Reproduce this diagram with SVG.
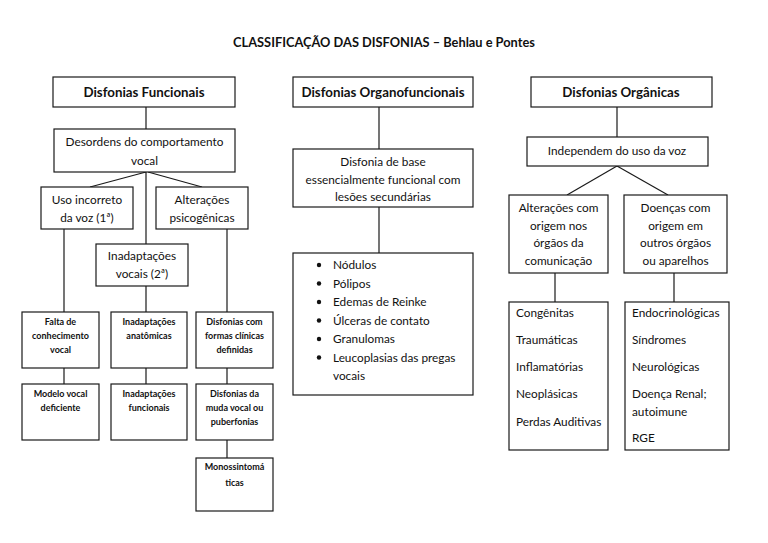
<svg xmlns="http://www.w3.org/2000/svg" width="768" height="543" viewBox="0 0 768 543">
<style>
  .bx { fill: #ffffff; stroke: #1a1a1a; stroke-width: 1.2; }
  .ln { stroke: #1a1a1a; stroke-width: 1.2; fill: none; }
  text { font-family: Lato, "Liberation Sans", sans-serif; fill: #111111; }
  .t { font-size: 12.8px; font-weight: bold; text-anchor: middle; }
  .h { font-size: 13.3px; font-weight: bold; text-anchor: middle; }
  .r { font-size: 11.8px; text-anchor: middle; }
  .l { font-size: 11.8px; }
  .s { font-size: 9px; font-weight: bold; text-anchor: middle; }
</style>
<rect width="768" height="543" fill="#ffffff"/>
<text class="t" x="384" y="47">CLASSIFICAÇÃO DAS DISFONIAS – Behlau e Pontes</text>

<g id="connectors">
  <line class="ln" x1="146" y1="107" x2="146" y2="129"/>
  <line class="ln" x1="146" y1="172" x2="90" y2="187"/>
  <line class="ln" x1="148" y1="172" x2="202" y2="187"/>
  <line class="ln" x1="146" y1="172" x2="146" y2="244"/>
  <line class="ln" x1="64" y1="229" x2="64" y2="312"/>
  <line class="ln" x1="227" y1="229" x2="227" y2="312"/>
  <line class="ln" x1="146" y1="286" x2="146" y2="312"/>
  <line class="ln" x1="64" y1="368" x2="64" y2="384"/>
  <line class="ln" x1="146" y1="368" x2="146" y2="384"/>
  <line class="ln" x1="227" y1="368" x2="227" y2="384"/>
  <line class="ln" x1="227" y1="440" x2="227" y2="458"/>
  <line class="ln" x1="379" y1="107" x2="379" y2="149"/>
  <line class="ln" x1="379" y1="207" x2="379" y2="253"/>
  <line class="ln" x1="617" y1="107" x2="617" y2="137"/>
  <line class="ln" x1="617" y1="166" x2="567" y2="195"/>
  <line class="ln" x1="617" y1="166" x2="668" y2="195"/>
  <line class="ln" x1="555" y1="273" x2="555" y2="302"/>
  <line class="ln" x1="674" y1="273" x2="674" y2="302"/>
</g>

<g id="funcionais">
  <rect class="bx" x="53" y="77" width="182" height="30"/>
  <text class="h" x="144" y="96.5">Disfonias Funcionais</text>
</g>
<g id="organofuncionais">
  <rect class="bx" x="293" y="77" width="180" height="30"/>
  <text class="h" x="383" y="96.5">Disfonias Organofuncionais</text>
</g>
<g id="organicas">
  <rect class="bx" x="531" y="77" width="181" height="30"/>
  <text class="h" x="621" y="96.5">Disfonias Orgânicas</text>
</g>

<g id="desordens">
  <rect class="bx" x="54" y="129" width="181" height="43"/>
  <text class="r" x="144.5" y="146">Desordens do comportamento</text>
  <text class="r" x="144.5" y="165">vocal</text>
</g>
<g id="uso-incorreto">
  <rect class="bx" x="41" y="187" width="92" height="42"/>
  <text class="r" x="87" y="204">Uso incorreto</text>
  <text class="r" x="87" y="222">da voz (1ª)</text>
</g>
<g id="psicogenicas">
  <rect class="bx" x="156" y="187" width="92" height="42"/>
  <text class="r" x="202" y="204">Alterações</text>
  <text class="r" x="202" y="222">psicogênicas</text>
</g>
<g id="inadaptacoes-vocais">
  <rect class="bx" x="96" y="244" width="92" height="42"/>
  <text class="r" x="142" y="260">Inadaptações</text>
  <text class="r" x="142" y="278">vocais (2ª)</text>
</g>

<g id="falta">
  <rect class="bx" x="22" y="312" width="77" height="56"/>
  <text class="s" x="60.5" y="325">Falta de</text>
  <text class="s" x="60.5" y="339">conhecimento</text>
  <text class="s" x="60.5" y="353">vocal</text>
</g>
<g id="anatomicas">
  <rect class="bx" x="111" y="312" width="76" height="56"/>
  <text class="s" x="149" y="325">Inadaptações</text>
  <text class="s" x="149" y="339">anatômicas</text>
</g>
<g id="formas-clinicas">
  <rect class="bx" x="196" y="312" width="77" height="56"/>
  <text class="s" x="234.5" y="325">Disfonias com</text>
  <text class="s" x="234.5" y="339">formas clínicas</text>
  <text class="s" x="234.5" y="353">definidas</text>
</g>
<g id="modelo">
  <rect class="bx" x="22" y="384" width="77" height="56"/>
  <text class="s" x="60.5" y="397">Modelo vocal</text>
  <text class="s" x="60.5" y="411">deficiente</text>
</g>
<g id="funcionais-inad">
  <rect class="bx" x="111" y="384" width="76" height="56"/>
  <text class="s" x="149" y="397">Inadaptações</text>
  <text class="s" x="149" y="411">funcionais</text>
</g>
<g id="muda-vocal">
  <rect class="bx" x="196" y="384" width="77" height="56"/>
  <text class="s" x="234.5" y="397">Disfonias da</text>
  <text class="s" x="234.5" y="411">muda vocal ou</text>
  <text class="s" x="234.5" y="425">puberfonias</text>
</g>
<g id="monossintomaticas">
  <rect class="bx" x="196" y="458" width="77" height="53"/>
  <text class="s" x="234.5" y="470">Monossintomá</text>
  <text class="s" x="234.5" y="486">ticas</text>
</g>

<g id="base-funcional">
  <rect class="bx" x="293" y="149" width="180" height="58"/>
  <text class="r" x="383" y="166">Disfonia de base</text>
  <text class="r" x="383" y="183.5">essencialmente funcional com</text>
  <text class="r" x="383" y="201">lesões secundárias</text>
</g>
<g id="lesoes">
  <rect class="bx" x="293" y="253" width="180" height="142"/>
  <circle cx="319" cy="265" r="2.2" fill="#111"/>
  <circle cx="319" cy="283.5" r="2.2" fill="#111"/>
  <circle cx="319" cy="302" r="2.2" fill="#111"/>
  <circle cx="319" cy="320.5" r="2.2" fill="#111"/>
  <circle cx="319" cy="339" r="2.2" fill="#111"/>
  <circle cx="319" cy="357.5" r="2.2" fill="#111"/>
  <text class="l" x="333" y="269">Nódulos</text>
  <text class="l" x="333" y="287.5">Pólipos</text>
  <text class="l" x="333" y="306">Edemas de Reinke</text>
  <text class="l" x="333" y="324.5">Úlceras de contato</text>
  <text class="l" x="333" y="343">Granulomas</text>
  <text class="l" x="333" y="361.5">Leucoplasias das pregas</text>
  <text class="l" x="333" y="380">vocais</text>
</g>

<g id="independem">
  <rect class="bx" x="527" y="137" width="181" height="29"/>
  <text class="r" x="617" y="155">Independem do uso da voz</text>
</g>
<g id="orgaos-comunicacao">
  <rect class="bx" x="509" y="195" width="99" height="78"/>
  <text class="r" x="558.5" y="212">Alterações com</text>
  <text class="r" x="558.5" y="230">origem nos</text>
  <text class="r" x="558.5" y="247">órgãos da</text>
  <text class="r" x="558.5" y="265">comunicação</text>
</g>
<g id="outros-orgaos">
  <rect class="bx" x="624" y="195" width="103" height="78"/>
  <text class="r" x="675.5" y="212">Doenças com</text>
  <text class="r" x="675.5" y="230">origem em</text>
  <text class="r" x="675.5" y="247">outros órgãos</text>
  <text class="r" x="675.5" y="265">ou aparelhos</text>
</g>
<g id="lista-comunicacao">
  <rect class="bx" x="509" y="302" width="99" height="148"/>
  <text class="l" x="516" y="317">Congênitas</text>
  <text class="l" x="516" y="344">Traumáticas</text>
  <text class="l" x="516" y="371">Inflamatórias</text>
  <text class="l" x="516" y="398">Neoplásicas</text>
  <text class="l" x="516" y="426">Perdas Auditivas</text>
</g>
<g id="lista-outros">
  <rect class="bx" x="625" y="302" width="104" height="148"/>
  <text class="l" x="632" y="317">Endocrinológicas</text>
  <text class="l" x="632" y="344">Síndromes</text>
  <text class="l" x="632" y="371">Neurológicas</text>
  <text class="l" x="632" y="398">Doença Renal;</text>
  <text class="l" x="632" y="416">autoimune</text>
  <text class="l" x="632" y="442">RGE</text>
</g>
</svg>
